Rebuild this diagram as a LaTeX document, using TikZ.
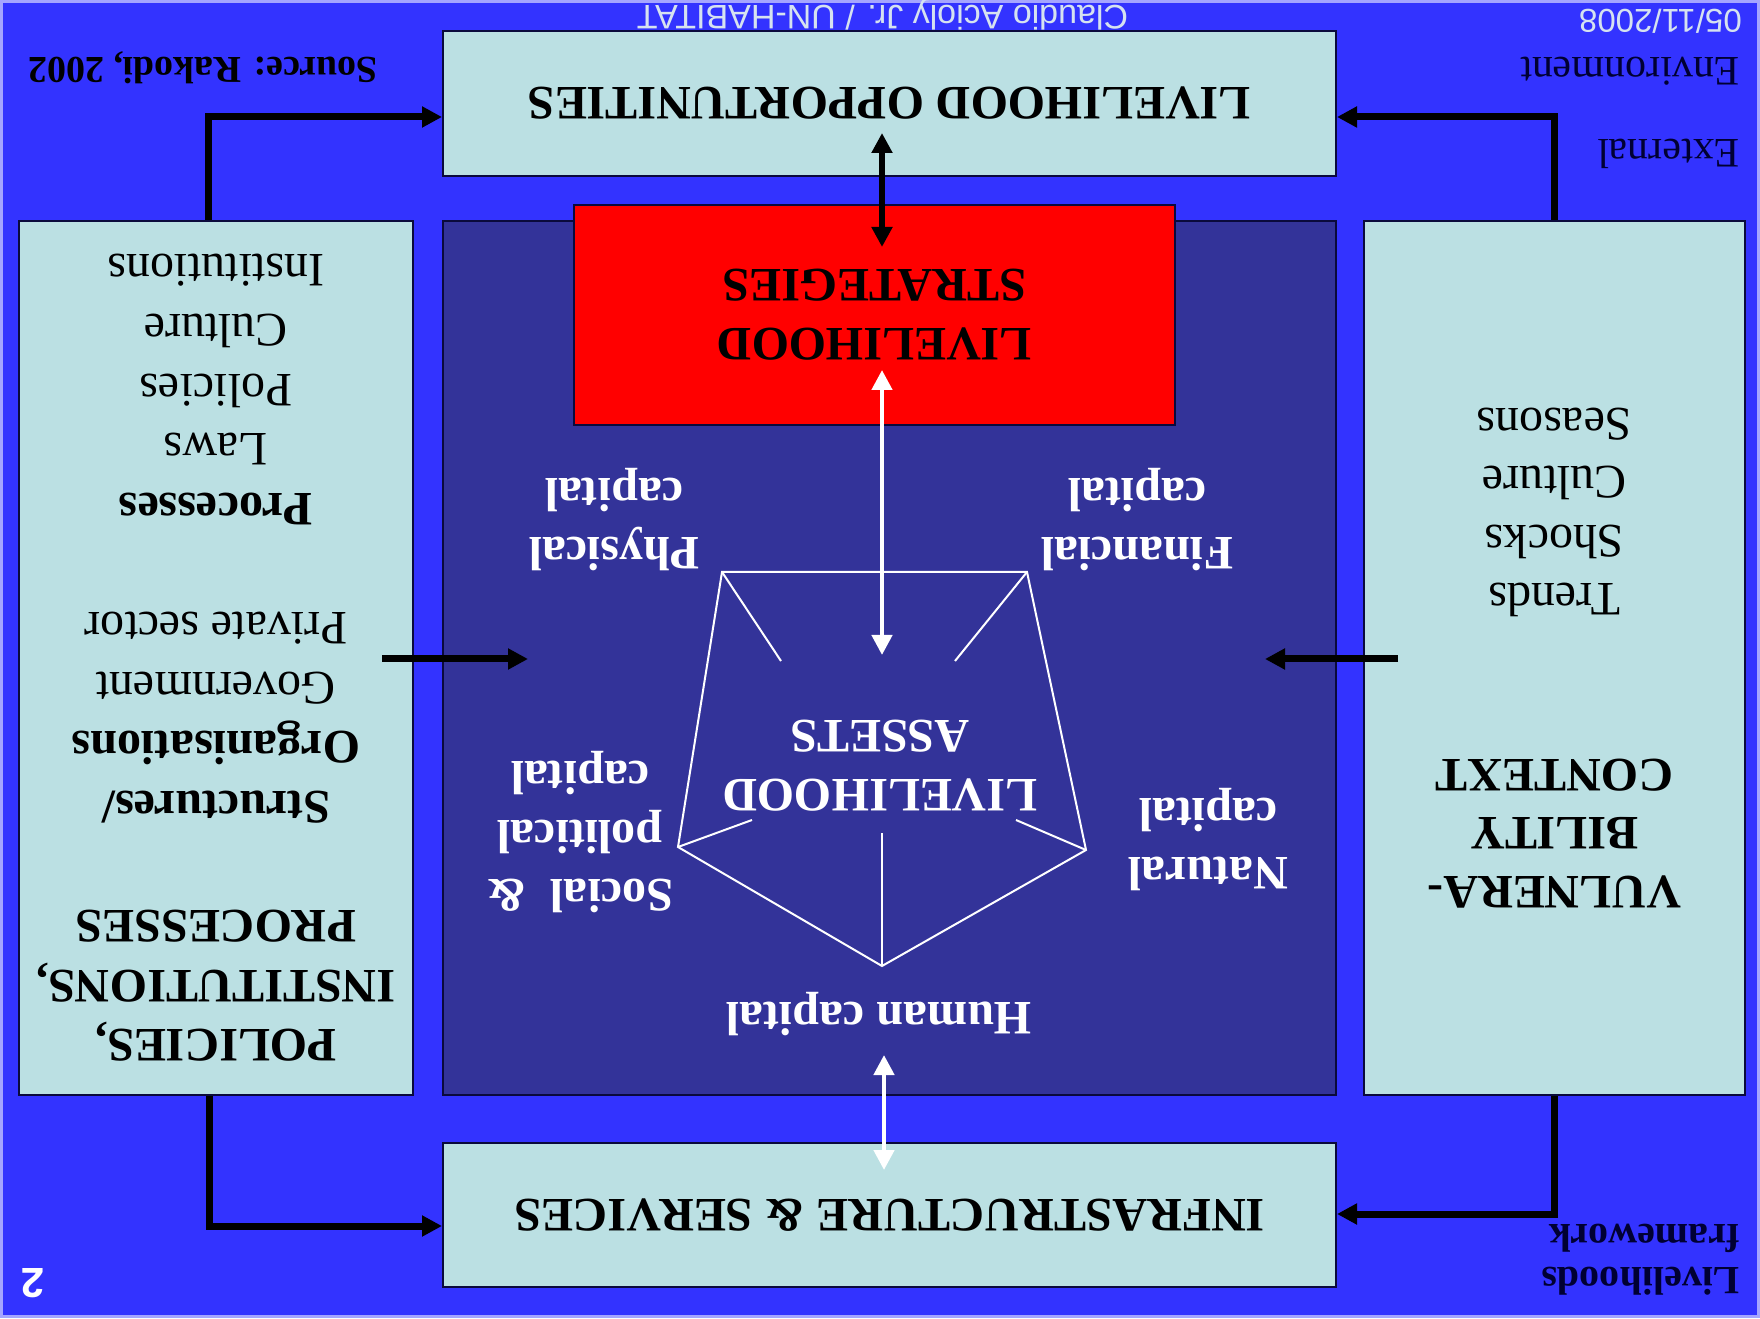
\documentclass[tikz,border=0pt]{standalone}
\usepackage{fontspec}
\setmainfont{Liberation Serif}
\newfontfamily\arialfont{Liberation Sans}
\usetikzlibrary{arrows.meta,shapes}

\definecolor{slideblue}{RGB}{51,51,255}
\definecolor{edgeblue}{RGB}{165,165,255}
\definecolor{boxcyan}{RGB}{187,224,227}
\definecolor{capblue}{RGB}{51,51,153}
\definecolor{boxline}{RGB}{10,10,60}
\definecolor{footgrey}{RGB}{214,226,240}
\definecolor{titlenavy}{RGB}{0,0,51}

\tikzset{
  >={Triangle[length=20pt,width=20pt]},
  box/.style={draw=boxline,line width=2pt,fill=boxcyan,inner sep=0pt,align=center,
    font=\bfseries\fontsize{48}{59}\selectfont},
  captext/.style={text=white,inner sep=0pt,align=center,
    font=\bfseries\fontsize{48}{59}\selectfont},
  blk/.style={->,line width=7pt,black},
  wht/.style={<->,line width=4.5pt,white},
  spoke/.style={white,line width=2pt},
}

\begin{document}
\begin{tikzpicture}[x=1pt,y=1pt]
  \fill[slideblue] (0,0) rectangle (1760,1318);
  \draw[edgeblue,line width=3pt] (1.5,1.5) rectangle (1758.5,1316.5);
  \useasboundingbox (0,0) rectangle (1760,1318);

  \begin{scope}[rotate around={180:(880,659)},transform shape]
    \node[box,minimum width=893pt,minimum height=145pt] (opp) at (870.5,103.5) {LIVELIHOOD OPPORTUNITIES};
    \node[box,minimum width=893pt,minimum height=144pt] (infra) at (870.5,1215) {INFRASTRUCTURE \& SERVICES};
    \node[draw=boxline,line width=2pt,fill=capblue,minimum width=893pt,minimum height=874pt] (capbox) at (870.5,658) {};
    \node[box,fill=red,minimum width=601pt,minimum height=220pt] (strat) at (885.5,315) {LIVELIHOOD\\STRATEGIES};

    \node[box,minimum width=381pt,minimum height=874pt,font=\fontsize{48}{58.5}\selectfont] (vuln) at (205.5,658)
      {\textbf{VULNERA-}\\\textbf{BILITY}\\\textbf{CONTEXT}\\[117pt]Trends\\Shocks\\Culture\\Seasons};
    \node[box,minimum width=394pt,minimum height=874pt,font=\fontsize{48}{59.6}\selectfont] (pip) at (1544,658)
      {\textbf{POLICIES,}\\\textbf{INSTITUTIONS,}\\\textbf{PROCESSES}\\[59.6pt]%
       \textbf{Structures/}\\\textbf{Organisations}\\Government\\Private sector\\[59.6pt]%
       \textbf{Processes}\\Laws\\Policies\\Culture\\Institutions};

    % asset pentagon
    \coordinate (p1) at (1038,572);
    \coordinate (p2) at (733,572);
    \coordinate (p3) at (674,850);
    \coordinate (p4) at (878,966);
    \coordinate (p5) at (1082,847);
    \coordinate (q1) at (979,661);
    \coordinate (q2) at (805,661);
    \coordinate (q3) at (744,820);
    \coordinate (q4) at (878,833);
    \coordinate (q5) at (1008,820);
    \draw[spoke] (p1) -- (p2) -- (p3) -- (p4) -- (p5) -- cycle;
    \foreach \a/\b in {p1/q1,p2/q2,p3/q3,p4/q4,p5/q5}
      \draw[spoke] (\a) -- (\b);

    \node[captext] (assets) at (880,766) {LIVELIHOOD\\ASSETS};
    \node[captext] (human) at (881,1014) {Human capital};
    \node[captext] (social) at (1180,832) {Social\ \ \&\\political\\capital};
    \node[captext] (natural) at (552,840) {Natural\\capital};
    \node[captext] (physical) at (1146,520) {Physical\\capital};
    \node[captext] (financial) at (623,520) {Financial\\capital};

    \coordinate (a1) at (878,133);
    \coordinate (a2) at (878,247);
    \coordinate (a3) at (878,370);
    \coordinate (a4) at (878,655);
    \coordinate (a5) at (876,1055);
    \coordinate (a6) at (876,1170);
    \coordinate (m1) at (1378,659);
    \coordinate (m2) at (1232,659);
    \coordinate (m3) at (362,659);
    \coordinate (m4) at (495,659);
    \coordinate (k1) at (1552,117);
    \coordinate (k2) at (206,117);
    \coordinate (k3) at (1551,1226);
    \coordinate (k4) at (206,1214);

    \draw[blk,<->,line width=6pt] (a1) -- (a2);
    \draw[wht] (a3) -- (a4);
    \draw[wht] (a5) -- (a6);
    \draw[blk] (m1) -- (m2);
    \draw[blk] (m3) -- (m4);
    \draw[blk] (pip.south -| k1) |- (opp.east |- k1);
    \draw[blk] (vuln.south -| k2) |- (opp.west |- k2);
    \draw[blk] (pip.north -| k3) |- (infra.east |- k3);
    \draw[blk] (vuln.north -| k4) |- (infra.west |- k4);

    \node[inner sep=0pt,font=\bfseries\fontsize{38}{44}\selectfont] (src) at (1557,68) {Source: Rakodi, 2002};
    \node[inner sep=0pt,anchor=west,text=footgrey,font=\arialfont\fontsize{33}{38}\selectfont] (date) at (18,21) {05/11/2008};
    \node[inner sep=0pt,anchor=base,text=footgrey,font=\arialfont\fontsize{34}{38}\selectfont] (auth) at (877.5,6) {Claudio Acioly Jr. / UN-HABITAT};
    \node[inner sep=0pt,anchor=west,align=left,text=titlenavy,font=\fontsize{42}{82}\selectfont] (ext) at (20,113) {External\\Environment};
    \node[inner sep=0pt,anchor=west,align=left,text=titlenavy,font=\bfseries\fontsize{40}{43}\selectfont] (frame) at (20,1260) {Livelihoods\\framework};
    \node[inner sep=0pt,text=white,font=\arialfont\bfseries\fontsize{42}{48}\selectfont] (pgno) at (1727,1283) {2};
  \end{scope}
\end{tikzpicture}
\end{document}
